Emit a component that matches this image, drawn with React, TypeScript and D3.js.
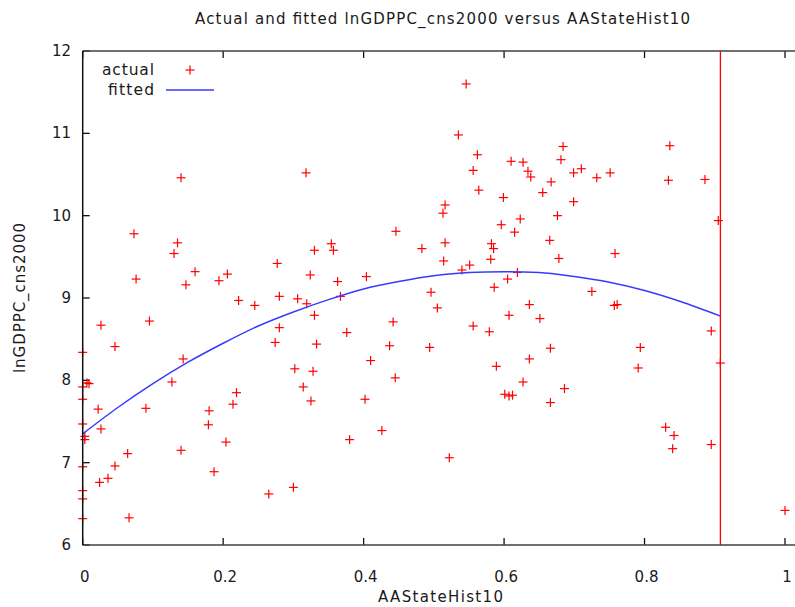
import React from "react";
import * as d3 from "d3";

const actualX: number[] = [
  0, 0.006, 0.009, 0, 0, 0, 0.003, 0.003, 0, 0, 0, 0,
  0.026, 0.095, 0.046, 0.143, 0.127, 0.022, 0.09, 0.026, 0.064, 0.046, 0.036, 0.024, 0.066,
  0.18, 0.179, 0.219, 0.214, 0.204, 0.14, 0.187, 0.265, 0.3, 0.302, 0.328, 0.314, 0.325,
  0.222, 0.245, 0.28, 0.306, 0.319, 0.33, 0.28, 0.274, 0.333,
  0.14, 0.073, 0.135, 0.13, 0.16, 0.076, 0.147, 0.194, 0.206, 0.277, 0.318, 0.33, 0.324,
  0.546, 0.535, 0.562, 0.556, 0.564, 0.61, 0.627, 0.634, 0.638, 0.667, 0.655, 0.599, 0.516, 0.513,
  0.676, 0.623, 0.596, 0.615, 0.446, 0.354, 0.357, 0.483, 0.516, 0.582, 0.585, 0.665, 0.581, 0.514,
  0.678, 0.363, 0.404, 0.54, 0.551, 0.619, 0.605, 0.586, 0.496, 0.367,
  0.684, 0.836, 0.681, 0.71, 0.699, 0.751, 0.732, 0.834, 0.886, 0.699, 0.905, 0.758, 0.725,
  0.505, 0.442, 0.376, 0.437, 0.494, 0.41, 0.445, 0.402, 0.426, 0.38, 0.522, 0.556, 0.579, 0.607,
  0.636, 0.651, 0.666, 0.636, 0.589, 0.627, 0.601, 0.607, 0.612, 0.666,
  0.757, 0.761, 0.794, 0.791, 0.895, 0.908, 0.686, 0.83, 0.842, 0.84, 0.895, 1.0,
];
const actualY: number[] = [
  8.34, 7.97, 7.96, 7.92, 7.77, 7.47, 7.32, 7.28, 6.95, 6.66, 6.56, 6.32,
  8.67, 8.72, 8.41, 8.26, 7.98, 7.65, 7.66, 7.41, 7.11, 6.96, 6.81, 6.76, 6.33,
  7.63, 7.46, 7.85, 7.71, 7.25, 7.15, 6.89, 6.62, 6.7, 8.14, 8.11, 7.92, 7.75,
  8.97, 8.91, 9.02, 8.99, 8.93, 8.79, 8.64, 8.46, 8.44,
  10.46, 9.78, 9.67, 9.54, 9.32, 9.23, 9.16, 9.21, 9.29, 9.42, 10.52, 9.58, 9.28,
  11.6, 10.98, 10.74, 10.55, 10.31, 10.66, 10.65, 10.54, 10.47, 10.41, 10.28, 10.22, 10.13, 10.03,
  10.0, 9.96, 9.89, 9.8, 9.81, 9.66, 9.58, 9.6, 9.67, 9.66, 9.6, 9.7, 9.47, 9.45,
  9.48, 9.2, 9.26, 9.34, 9.4, 9.31, 9.23, 9.13, 9.07, 9.02,
  10.84, 10.85, 10.68, 10.57, 10.52, 10.52, 10.46, 10.43, 10.44, 10.17, 9.94, 9.54, 9.08,
  8.88, 8.71, 8.58, 8.42, 8.4, 8.24, 8.03, 7.77, 7.39, 7.28, 7.06, 8.66, 8.59, 8.79,
  8.92, 8.75, 8.39, 8.26, 8.17, 7.98, 7.83, 7.81, 7.82, 7.73,
  8.91, 8.92, 8.4, 8.15, 8.6, 8.21, 7.9, 7.43, 7.33, 7.17, 7.22, 6.42,
];

const fittedX: number[] = [0, 0.05, 0.1, 0.15, 0.2, 0.25, 0.3, 0.35, 0.4, 0.45, 0.5, 0.55, 0.6, 0.65, 0.7, 0.75, 0.8, 0.85, 0.908];
const fittedY: number[] = [7.35, 7.67, 7.96, 8.22, 8.45, 8.66, 8.83, 8.98, 9.11, 9.20, 9.27, 9.31, 9.32, 9.31, 9.26, 9.19, 9.09, 8.96, 8.78];

const verticalLineX = 0.908;

const xTicks: number[] = [0, 0.2, 0.4, 0.6, 0.8, 1];
const xTickLabels: string[] = ["0", "0.2", "0.4", "0.6", "0.8", "1"];
const yTicks: number[] = [6, 7, 8, 9, 10, 11, 12];
const yTickLabels: string[] = ["6", "7", "8", "9", "10", "11", "12"];

const title = "Actual and fitted lnGDPPC_cns2000 versus AAStateHist10";
const xLabel = "AAStateHist10";
const yLabel = "lnGDPPC_cns2000";
const legendLabels: string[] = ["actual", "fitted"];

export default function App() {
  const W = 795;
  const H = 607;
  const left = 82.7;
  const right = 785;
  const top = 51;
  const bottom = 545;
  const frameRight = 795;
  const font = "'DejaVu Sans', Verdana, sans-serif";
  const red = "#ff0000";
  const blue = "#3a3aff";
  const axisColor = "#404040";

  const x = d3.scaleLinear().domain([0, 1]).range([left, right]);
  const y = d3.scaleLinear().domain([6, 12]).range([bottom, top]);

  const line = d3
    .line<number>()
    .x((_, i) => x(fittedX[i]))
    .y((d) => y(d))
    .curve(d3.curveMonotoneX);

  const tick = 7;
  const cross = 4.5;

  return (
    <div style={{ position: "absolute", left: 0, top: 0, width: W, height: H, overflow: "hidden", background: "#fff" }}>
      <svg width={W} height={H} style={{ display: "block" }}>
        <rect x={0} y={0} width={W} height={H} fill="#ffffff" />
        <text x={442.5} y={24} textAnchor="middle" fontFamily={font} fontSize={15} fill="#1a1a1a"
          textLength={495} lengthAdjust="spacing">
          {title}
        </text>

        {/* x ticks */}
        {xTicks.map((t, i) => (
          <g key={"xt" + i}>
            <line x1={x(t)} x2={x(t)} y1={bottom} y2={bottom - tick} stroke="#111" strokeWidth={1.3} />
            <line x1={x(t)} x2={x(t)} y1={top} y2={top + tick} stroke="#111" strokeWidth={1.3} />
            <text x={x(t) + 2} y={582} textAnchor="middle" fontFamily={font} fontSize={15} fill="#1a1a1a">
              {xTickLabels[i]}
            </text>
          </g>
        ))}

        {/* y ticks */}
        {yTicks.map((t, i) => (
          <g key={"yt" + i}>
            <line x1={left} x2={left + tick} y1={y(t)} y2={y(t)} stroke="#111" strokeWidth={1.3} />
            <text x={71} y={y(t) + 5} textAnchor="end" fontFamily={font} fontSize={15} fill="#1a1a1a">
              {yTickLabels[i]}
            </text>
          </g>
        ))}

        <text x={440.5} y={602} textAnchor="middle" fontFamily={font} fontSize={15} fill="#1a1a1a"
          textLength={125} lengthAdjust="spacing">
          {xLabel}
        </text>
        <text
          transform={`translate(25,298) rotate(-90)`}
          textAnchor="middle"
          fontFamily={font}
          fontSize={15}
          fill="#1a1a1a"
          textLength={150}
          lengthAdjust="spacing"
        >
          {yLabel}
        </text>

        {/* vertical red line */}
        <line x1={x(verticalLineX)} x2={x(verticalLineX)} y1={bottom} y2={top} stroke={red} strokeWidth={1.3} />

        {/* actual points */}
        <g stroke={red} strokeWidth={1.2}>
          {actualY.map((v, i) => {
            const cx = x(actualX[i]);
            const cy = y(v);
            return (
              <g key={"p" + i}>
                <line x1={cx - cross} x2={cx + cross} y1={cy} y2={cy} />
                <line x1={cx} x2={cx} y1={cy - cross} y2={cy + cross} />
              </g>
            );
          })}
        </g>

        {/* fitted */}
        <path d={line(fittedY) || ""} fill="none" stroke={blue} strokeWidth={1.5} />

        {/* mask right edge inside frame */}
        <rect x={790} y={top + 1} width={10} height={bottom - top - 2} fill="#ffffff" />

        {/* frame */}
        <g stroke={axisColor} strokeWidth={1.5} fill="none">
          <line x1={left} y1={top} x2={frameRight} y2={top} />
          <line x1={left} y1={bottom} x2={frameRight} y2={bottom} />
          <line x1={left} y1={top} x2={left} y2={bottom} stroke="#111" />
        </g>

        {/* legend */}
        <text x={154} y={75} textAnchor="end" fontFamily={font} fontSize={15.5} fill="#1a1a1a"
          textLength={52} lengthAdjust="spacing">
          {legendLabels[0]}
        </text>
        <g stroke={red} strokeWidth={1.2}>
          <line x1={190 - cross} x2={190 + cross} y1={70} y2={70} />
          <line x1={190} x2={190} y1={70 - cross} y2={70 + cross} />
        </g>
        <text x={154} y={95} textAnchor="end" fontFamily={font} fontSize={15.5} fill="#1a1a1a"
          textLength={46} lengthAdjust="spacing">
          {legendLabels[1]}
        </text>
        <line x1={166} x2={214} y1={90} y2={90} stroke={blue} strokeWidth={1.5} />
      </svg>
    </div>
  );
}
